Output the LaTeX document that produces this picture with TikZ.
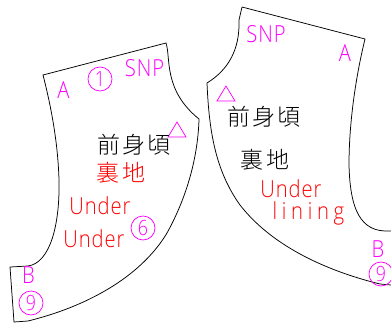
\documentclass[tikz,border=0pt]{standalone}
\usepackage{fontspec}
\setmainfont{Liberation Sans}
\newfontfamily\lat[FakeStretch=0.86,LetterSpace=4]{Open Sans Light}
\newfontfamily\latnum[FakeStretch=0.85]{Open Sans Light}
\newfontfamily\cjk[LetterSpace=10]{Noto Sans CJK JP Light}
\definecolor{mg}{RGB}{255,0,255}
\definecolor{rd}{RGB}{255,0,0}
\begin{document}
\begin{tikzpicture}[x=1pt,y=-1pt,
  piece/.style={draw=black,line width=0.75pt,line join=miter},
  latin/.style={inner sep=0pt,font=\fontsize{23.5}{23.5}\lat},
  kanji/.style={inner sep=0pt,font=\fontsize{23}{23}\cjk},
  mark1/.style={draw=mg,line width=0.75pt},
  num/.style={circle,draw=mg,line width=0.75pt,minimum size=24pt,inner sep=0pt,text=mg,font=\fontsize{21}{21}\latnum}]
\useasboundingbox (0,0) rectangle (391,327);
\clip (0,0) rectangle (391,327);
% left piece
\draw[piece] (43,75) -- (166,43)
  .. controls (171,58) and (163,90) .. (199,119)
  .. controls (198,155) and (188,195) .. (167,233)
  .. controls (140,278) and (85,307) .. (28,321)
  -- (14,322) -- (10,267) -- (28,266)
  .. controls (50,263) and (60,225) .. (59,180)
  .. controls (58,145) and (52,110) .. cycle;
% right piece
\draw[piece] (242,7) -- (365,39)
  .. controls (355,80) and (349,125) .. (349,165)
  .. controls (350,200) and (356,230) .. (385,231) -- (391,231)
  (391,285) -- (380,284)
  .. controls (335,273) and (275,250) .. (240,205)
  .. controls (215,170) and (209,130) .. (207,83)
  .. controls (228,70) and (240,50) .. (239,20) -- (242,7);
% triangles
\draw[mark1] (177,122) -- (186,137) -- (168,137) -- cycle;
\draw[mark1] (226,86) -- (235,101) -- (217,101) -- cycle;
% left texts
\node[latin,text=mg] (snpa) at (144.5,68) {SNP};
\node[latin,text=mg] (aa) at (63.5,90) {A};
\node[num] (n1) at (100,79) {1};
\node[kanji,text=black] (ja) at (134,145) {前身頃};
\node[kanji,text=rd] (jb) at (121,173) {裏地};
\node[latin,text=rd] (ua) at (100,206) {Under};
\node[latin,text=rd] (ub) at (94,239) {Under};
\node[num] (n6) at (143,228) {6};
\node[latin,text=mg] (bb) at (28.5,275) {B};
\node[num] (n9) at (31,303) {9};
% right texts
\node[latin,text=mg] (snpb) at (266,34) {SNP};
\node[latin,text=mg] (ab) at (345,53) {A};
\node[kanji,text=black] (jc) at (264,117) {前身頃};
\node[kanji,text=black] (jd) at (265,160) {裏地};
\node[latin,text=rd] (uc) at (291,189) {Under};
\node[latin,text=rd,font=\fontsize{23.5}{23.5}\lat\addfontfeature{LetterSpace=20}] (ud) at (308.5,213) {lining};
\node[latin,text=mg] (bc) at (378,249) {B};
\node[num] (n9b) at (381,274) {9};
\end{tikzpicture}
\end{document}
